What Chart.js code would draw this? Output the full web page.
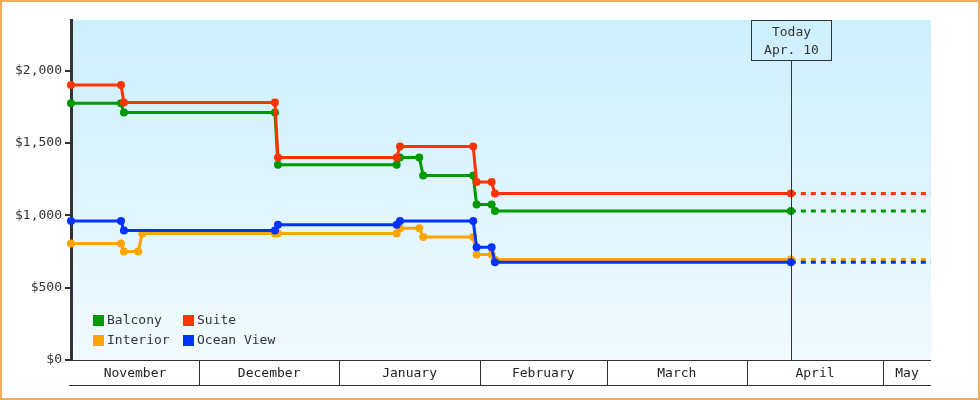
<!doctype html>
<html lang="en">
<head>
  <meta charset="utf-8" />
  <title>Cabin prices</title>
  <style>
    *{box-sizing:border-box}
    body{margin:0; background:#fff}
    .wrap{width:980px; height:400px; position:relative}
  </style>
  <script src="https://cdn.jsdelivr.net/npm/chart.js@4.4.1/dist/chart.umd.min.js"></script>
</head>
<body>
  <div class="wrap"><canvas id="c" width="980" height="400"></canvas></div>

<script>
// price points, shared dates (UTC), null = no point for that cabin on that date
const dates = [
  "2024-11-02T18:00", "2024-11-13T19:00", "2024-11-14T10:30", "2024-11-17T14:00",
  "2024-11-18T11:30", "2024-12-17T18:30", "2024-12-18T10:30", "2025-01-13T15:30",
  "2025-01-14T09:00", "2025-01-18T15:00", "2025-01-19T12:00", "2025-01-30T13:00",
  "2025-01-31T07:00", "2025-02-03T14:30", "2025-02-04T08:00", "2025-04-10T16:00"
];
const balcony   = [1775, 1775, 1710, null, null, 1710, 1350, 1350, 1400, 1400, 1275, 1275, 1075, 1075, 1030, 1030];
const suite     = [1900, 1900, 1780, null, null, 1780, 1400, 1400, 1475, null, null, 1475, 1230, 1230, 1150, 1150];
const interior  = [ 805,  805,  750,  750,  875,  875,  875,  875,  910,  910,  850,  850,  730,  730,  695,  695];
const oceanView = [ 960,  960,  895, null, null,  895,  935,  935,  960, null, null,  960,  780,  780,  675,  675];

const today = "2025-04-10T16:00";
const todayLabel = ["Today", "Apr. 10"];
const axisStart = "2024-11-02T18:00";
const axisEnd = "2025-05-11T14:30";

const monthStarts = ["2024-11-01", "2024-12-01", "2025-01-01", "2025-02-01", "2025-03-01", "2025-04-01", "2025-05-01", "2025-06-01"];
const monthNames = ["November", "December", "January", "February", "March", "April", "May"];
const yTicks = [0, 500, 1000, 1500, 2000];
const yMax = 2350;

const FONT = '"DejaVu Sans Mono", "Liberation Mono", monospace';
const INK = "#333";

const day = s => Date.parse(s.length === 10 ? s + "T00:00Z" : s + "Z") / 86400000;
const xMin = day(axisStart), xMax = day(axisEnd);
const months = monthNames.map((name, i) => {
  const a = Math.max(day(monthStarts[i]), xMin), b = Math.min(day(monthStarts[i + 1]), xMax);
  return { name, start: day(monthStarts[i]), mid: (a + b) / 2 };
});

function series(label, values, color, order){
  const pts = [];
  values.forEach((v, i) => { if (v !== null) pts.push({ x: day(dates[i]), y: v }); });
  // flat projection past today
  pts.push({ x: xMax, y: pts[pts.length - 1].y });
  const last = pts.length - 1;
  return {
    label, data: pts, order, clip: false,
    borderColor: color, backgroundColor: color,
    borderWidth: 3, tension: 0,
    pointRadius: c => c.dataIndex === last ? 0 : 4,
    pointHoverRadius: 4, pointBorderWidth: 0,
    segment: { borderDash: c => c.p1DataIndex === last ? [5, 5] : undefined }
  };
}

const bgPlugin = {
  id: "bg",
  beforeDraw(chart){
    const { ctx, chartArea: a } = chart;
    const g = ctx.createLinearGradient(0, a.top, 0, a.bottom);
    g.addColorStop(0, "#ccefFC");
    g.addColorStop(1, "#f1faff");
    ctx.save(); ctx.fillStyle = g;
    ctx.fillRect(a.left, a.top, a.right - a.left, a.bottom - a.top);
    ctx.restore();
  }
};

const todayPlugin = {
  id: "today",
  afterDatasetsDraw(chart){
    const { ctx, chartArea: a, scales: { x } } = chart;
    const px = Math.round(x.getPixelForValue(day(today))) + 0.5;
    ctx.save();
    ctx.strokeStyle = INK; ctx.lineWidth = 1;
    ctx.beginPath(); ctx.moveTo(px, a.top + 40); ctx.lineTo(px, a.bottom); ctx.stroke();
    ctx.strokeRect(px - 40, a.top + 0.5, 80, 40);
    ctx.fillStyle = INK; ctx.font = "13px " + FONT;
    ctx.textAlign = "center"; ctx.textBaseline = "middle";
    ctx.fillText(todayLabel[0], px, a.top + 13);
    ctx.fillText(todayLabel[1], px, a.top + 31);
    ctx.restore();
  }
};

const legendPlugin = {
  id: "boxLegend",
  afterDatasetsDraw(chart){
    const { ctx, chartArea: a } = chart;
    const ds = chart.data.datasets;
    ctx.save();
    ctx.font = "13px " + FONT; ctx.textBaseline = "middle"; ctx.fillStyle = INK;
    ds.forEach((d, i) => {
      const bx = a.left + 22 + (i % 2) * 90, by = a.bottom - 45 + Math.floor(i / 2) * 20;
      ctx.fillStyle = d.borderColor; ctx.fillRect(bx, by, 11, 11);
      ctx.fillStyle = INK; ctx.fillText(d.label, bx + 14, by + 6);
    });
    ctx.restore();
  }
};

const framePlugin = {
  id: "frame",
  afterDraw(chart){
    const { ctx, chartArea: a, scales: { x } } = chart;
    ctx.save();
    ctx.strokeStyle = INK; ctx.lineWidth = 1;
    ctx.beginPath();
    ctx.moveTo(a.left - 2, a.bottom + 0.5); ctx.lineTo(a.right, a.bottom + 0.5);
    ctx.moveTo(a.left - 2, a.bottom + 25.5); ctx.lineTo(a.right, a.bottom + 25.5);
    months.forEach(m => {
      if (m.start <= xMin || m.start >= xMax) return;
      const px = Math.round(x.getPixelForValue(m.start)) + 0.5;
      ctx.moveTo(px, a.bottom); ctx.lineTo(px, a.bottom + 25);
    });
    ctx.stroke();
    ctx.strokeStyle = "#f0ad5e"; ctx.lineWidth = 2;
    ctx.strokeRect(1, 1, chart.width - 2, chart.height - 2);
    ctx.restore();
  }
};

new Chart(document.getElementById("c"), {
  type: "line",
  data: {
    datasets: [
      series("Balcony", balcony, "#009900", 2),
      series("Suite", suite, "#ff3300", 1),
      series("Interior", interior, "#ffa500", 2),
      series("Ocean View", oceanView, "#0033ff", 1)
    ]
  },
  options: {
    responsive: false, animation: false,
    layout: { padding: { top: 20, right: 49, left: 0, bottom: 0 } },
    plugins: { legend: { display: false }, tooltip: { enabled: false } },
    scales: {
      x: {
        type: "linear", min: xMin, max: xMax,
        afterBuildTicks: s => { s.ticks = months.map(m => ({ value: m.mid })); },
        afterFit: s => { s.height = 40; },
        ticks: {
          autoSkip: false, maxRotation: 0, padding: 6, color: "#222",
          font: { family: FONT, size: 13 },
          callback: (v, i) => months[i] ? months[i].name : ""
        },
        grid: { display: false, drawTicks: false },
        border: { display: false }
      },
      y: {
        min: 0, max: yMax,
        afterBuildTicks: s => { s.ticks = yTicks.map(v => ({ value: v })); },
        afterFit: s => { s.width = 71; },
        ticks: {
          padding: 3, color: INK,
          font: { family: FONT, size: 13 },
          callback: v => "$" + v.toLocaleString("en-US")
        },
        grid: { drawOnChartArea: false, tickLength: 6, color: INK, lineWidth: 2 },
        border: { color: INK, width: 3 }
      }
    }
  },
  plugins: [bgPlugin, todayPlugin, legendPlugin, framePlugin]
});
</script>
</body>
</html>
